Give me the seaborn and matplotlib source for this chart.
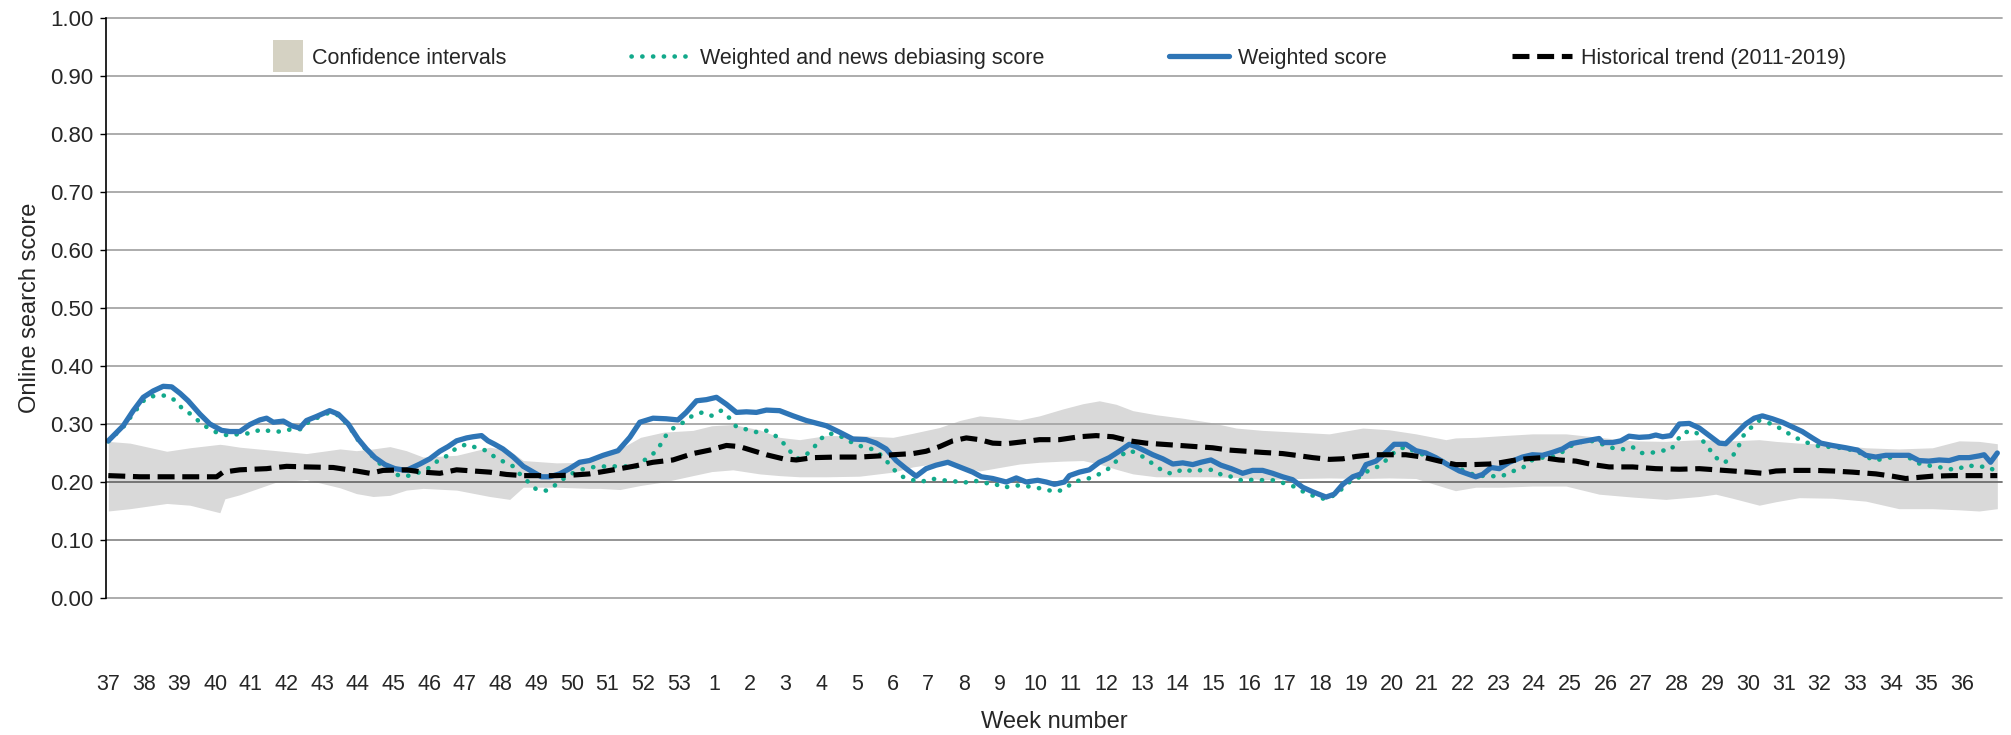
import matplotlib
matplotlib.use("Agg")
import matplotlib.pyplot as plt
import seaborn as sns
import pandas as pd
from matplotlib.patches import Patch, Rectangle
from matplotlib.lines import Line2D
from matplotlib.legend_handler import HandlerPatch

# ---- data (x = position in weeks from the first labelled week) ----
week_labels = list(range(37, 54)) + list(range(1, 37))

weighted_x = [0.00, 0.42, 0.70, 0.98, 1.26, 1.54, 1.78, 2.01, 2.24, 2.57,
              2.85, 3.18, 3.41, 3.69, 3.97, 4.25, 4.44, 4.63, 4.91, 5.14,
              5.37, 5.56, 5.84, 6.21, 6.45, 6.73, 7.01, 7.24, 7.48, 7.76,
              8.04, 8.36, 8.74, 9.02, 9.30, 9.53, 9.77, 10.05, 10.23, 10.47,
              10.65, 10.84, 11.07, 11.36, 11.64, 11.92, 12.15, 12.38, 12.66, 12.94,
              13.22, 13.50,
              13.88, 14.30, 14.63, 14.91, 15.28, 15.65, 15.98, 16.21, 16.50, 16.78,
              17.06, 17.34, 17.62, 17.90, 18.18, 18.46, 18.83, 19.21, 19.58, 20.14,
              20.51, 20.89, 21.26, 21.54, 21.82, 22.10, 22.38, 22.66, 22.94, 23.22,
              23.55, 23.88, 24.25, 24.49, 24.81, 25.19, 25.47, 25.75,
              26.07, 26.31, 26.54, 26.82, 26.96, 27.24, 27.52, 27.80, 28.08, 28.36,
              28.64, 28.83, 29.07, 29.30, 29.58, 29.86, 30.14, 30.42, 30.65, 30.93,
              31.21, 31.50, 31.82, 32.10, 32.38, 32.66, 32.94, 33.22, 33.50, 33.79,
              34.16, 34.39, 34.63, 34.91, 35.14, 35.28, 35.56, 35.84, 36.07, 36.40,
              36.68, 36.96, 37.24, 37.57, 37.90, 38.36, 38.55, 38.79,
              39.02, 39.30, 39.67, 39.95, 40.23, 40.51, 40.79, 41.03, 41.36, 41.64,
              41.82, 41.92, 42.20, 42.43, 42.66, 42.94, 43.22, 43.41, 43.60, 43.83,
              44.07, 44.35, 44.63, 44.91, 45.19, 45.37, 45.65, 45.93, 46.17, 46.40,
              46.68, 46.96, 47.24, 47.52, 47.80, 48.04, 48.36, 48.74, 49.07, 49.30,
              49.58, 49.86, 50.23, 50.51, 50.79, 51.07, 51.36, 51.64, 51.92, 52.20,
              52.48, 52.62, 52.80, 52.99]
weighted_score = [0.271, 0.297, 0.323, 0.346, 0.357, 0.365, 0.364, 0.353, 0.340, 0.317,
                  0.300, 0.289, 0.287, 0.287, 0.299, 0.307, 0.310, 0.303, 0.305, 0.297,
                  0.293, 0.306, 0.313, 0.323, 0.317, 0.300, 0.274, 0.257, 0.242, 0.230,
                  0.223, 0.220, 0.231, 0.240, 0.253, 0.261, 0.271, 0.276, 0.278, 0.280,
                  0.271, 0.265, 0.257, 0.243, 0.227, 0.217, 0.209, 0.209, 0.214, 0.223,
                  0.234, 0.237,
                  0.246, 0.254, 0.277, 0.303, 0.310, 0.309, 0.307, 0.320, 0.340, 0.342,
                  0.346, 0.334, 0.320, 0.321, 0.320, 0.324, 0.323, 0.314, 0.306, 0.297,
                  0.286, 0.274, 0.273, 0.267, 0.257, 0.237, 0.223, 0.210, 0.223, 0.229,
                  0.234, 0.226, 0.217, 0.209, 0.206, 0.200, 0.207, 0.200,
                  0.203, 0.200, 0.196, 0.200, 0.211, 0.217, 0.221, 0.234, 0.242, 0.253,
                  0.265, 0.261, 0.254, 0.247, 0.240, 0.231, 0.233, 0.230, 0.234, 0.238,
                  0.229, 0.223, 0.215, 0.220, 0.220, 0.215, 0.209, 0.204, 0.191, 0.183,
                  0.174, 0.179, 0.196, 0.209, 0.214, 0.230, 0.236, 0.251, 0.265, 0.265,
                  0.254, 0.250, 0.242, 0.230, 0.219, 0.209, 0.213, 0.225,
                  0.223, 0.234, 0.243, 0.247, 0.246, 0.251, 0.257, 0.266, 0.270, 0.273,
                  0.275, 0.268, 0.268, 0.271, 0.279, 0.277, 0.278, 0.281, 0.278, 0.280,
                  0.300, 0.301, 0.293, 0.280, 0.267, 0.266, 0.283, 0.300, 0.310, 0.314,
                  0.309, 0.303, 0.295, 0.287, 0.276, 0.267, 0.263, 0.259, 0.255, 0.246,
                  0.243, 0.246, 0.246, 0.246, 0.237, 0.236, 0.238, 0.237, 0.242, 0.242,
                  0.245, 0.247, 0.234, 0.250]

debiased_x = [0.00, 0.42, 0.70, 1.03, 1.31, 1.62, 1.90, 2.08, 2.34, 2.57,
              2.80, 3.08, 3.39, 3.69, 3.99, 4.30, 4.58, 4.83, 5.14, 5.42,
              5.56, 5.84, 6.21, 6.45, 6.73, 7.01, 7.24, 7.48, 7.66, 7.90,
              8.18, 8.46, 8.74, 9.02, 9.25, 9.53, 9.77, 10.05, 10.33, 10.61,
              10.84, 11.12, 11.36, 11.54, 11.78, 12.01, 12.31, 12.57, 12.80, 13.08,
              13.36,
              13.64, 13.97, 14.25, 14.53, 14.81, 15.09, 15.33, 15.51, 15.65, 15.89,
              16.14, 16.38, 16.66, 16.94, 17.19, 17.43, 17.62, 17.88, 18.16, 18.41,
              18.69, 18.91, 19.11, 19.32, 19.56, 19.79, 19.95, 20.21, 20.51, 20.77,
              21.03, 21.31, 21.54, 21.78, 22.01, 22.24, 22.52, 22.80, 23.08, 23.39,
              23.69, 23.97, 24.27, 24.55, 24.83, 25.11, 25.39, 25.67,
              25.93, 26.26, 26.54, 26.82, 27.06, 27.34, 27.62, 27.90, 28.16, 28.36,
              28.60, 28.83, 29.11, 29.35, 29.63, 29.88, 30.16, 30.42, 30.70, 31.00,
              31.26, 31.54, 31.82, 32.12, 32.43, 32.74, 33.02, 33.32, 33.58, 33.86,
              34.16, 34.44, 34.71, 34.89, 35.14, 35.37, 35.64, 35.89, 36.12, 36.40,
              36.68, 37.06, 37.43, 37.90, 38.36, 38.81,
              39.09, 39.37, 39.67, 39.91, 40.19, 40.47, 40.75, 40.98, 41.31, 41.59,
              41.87, 42.18, 42.46, 42.74, 42.99, 43.27, 43.55, 43.83, 44.02, 44.21,
              44.52, 44.70, 44.89, 45.07, 45.33, 45.56, 45.73, 45.84, 46.03, 46.31,
              46.73, 46.98, 47.24, 47.50, 47.80, 48.08, 48.36, 48.74, 49.02, 49.53,
              49.81, 50.14, 50.42, 50.68, 50.96, 51.26, 51.56, 51.84, 52.15, 52.45,
              52.71, 52.93]
debiased_score = [0.270, 0.295, 0.318, 0.343, 0.349, 0.349, 0.340, 0.326, 0.316, 0.303,
                  0.293, 0.284, 0.280, 0.283, 0.284, 0.291, 0.287, 0.287, 0.291, 0.291,
                  0.301, 0.310, 0.320, 0.315, 0.298, 0.272, 0.255, 0.240, 0.229, 0.220,
                  0.210, 0.211, 0.217, 0.225, 0.237, 0.246, 0.259, 0.265, 0.259, 0.254,
                  0.243, 0.234, 0.227, 0.214, 0.200, 0.187, 0.185, 0.196, 0.207, 0.217,
                  0.223,
                  0.226, 0.227, 0.227, 0.227, 0.227, 0.240, 0.251, 0.266, 0.281, 0.295,
                  0.303, 0.314, 0.320, 0.314, 0.323, 0.310, 0.295, 0.291, 0.286, 0.290,
                  0.281, 0.269, 0.254, 0.240, 0.246, 0.259, 0.273, 0.284, 0.280, 0.271,
                  0.263, 0.259, 0.254, 0.240, 0.223, 0.210, 0.204, 0.200, 0.206, 0.203,
                  0.202, 0.198, 0.203, 0.198, 0.198, 0.190, 0.194, 0.194,
                  0.191, 0.188, 0.183, 0.187, 0.200, 0.204, 0.208, 0.217, 0.227, 0.243,
                  0.254, 0.251, 0.240, 0.229, 0.217, 0.214, 0.223, 0.218, 0.221, 0.221,
                  0.211, 0.209, 0.202, 0.204, 0.203, 0.203, 0.197, 0.191, 0.181, 0.175,
                  0.170, 0.179, 0.194, 0.204, 0.209, 0.221, 0.227, 0.240, 0.254, 0.261,
                  0.251, 0.244, 0.236, 0.223, 0.211, 0.210,
                  0.210, 0.218, 0.224, 0.237, 0.242, 0.242, 0.250, 0.261, 0.269, 0.271,
                  0.266, 0.259, 0.256, 0.261, 0.250, 0.250, 0.254, 0.255, 0.273, 0.286,
                  0.287, 0.273, 0.259, 0.243, 0.233, 0.244, 0.261, 0.278, 0.291, 0.306,
                  0.299, 0.289, 0.280, 0.271, 0.265, 0.260, 0.261, 0.257, 0.254, 0.237,
                  0.240, 0.244, 0.247, 0.234, 0.229, 0.227, 0.223, 0.221, 0.229, 0.226,
                  0.227, 0.219]

historical_x = [0.00, 0.89, 1.82, 3.04, 3.22, 3.69, 4.44, 5.00, 5.56, 6.31,
                6.96, 7.34, 7.71, 8.36, 8.83, 9.30, 9.77, 10.23, 10.70, 11.17,
                11.64, 12.10, 12.57, 13.04, 13.50,
                14.17, 14.72, 15.28, 15.84, 16.40, 16.87, 17.34, 17.71, 18.08, 18.46,
                18.93, 19.30, 19.77, 20.42, 21.07, 21.64, 22.01, 22.57, 22.94, 23.32,
                23.69, 24.07, 24.44, 24.81, 25.19, 25.75, 26.12, 26.68,
                27.24, 27.71, 28.18, 28.64, 29.11, 29.58, 30.05, 30.51, 30.98, 31.45,
                31.92, 32.38, 32.94, 33.32, 33.79, 34.25, 34.63, 35.00, 35.47, 35.93,
                36.40, 36.87, 37.34, 37.80, 38.27, 38.74,
                39.02, 39.39, 39.77, 40.23, 40.70, 41.17, 41.64, 42.10, 42.76, 43.41,
                44.07, 44.63, 45.09, 45.56, 46.03, 46.40, 46.78, 47.24, 47.90, 48.36,
                48.93, 49.58, 50.05, 50.42, 50.79, 51.17, 51.73, 52.29, 52.99]
historical_trend = [0.211, 0.209, 0.209, 0.209, 0.217, 0.221, 0.223, 0.227, 0.226, 0.225,
                    0.219, 0.215, 0.220, 0.221, 0.217, 0.215, 0.221, 0.219, 0.217, 0.213,
                    0.211, 0.211, 0.211, 0.212, 0.214,
                    0.221, 0.227, 0.234, 0.238, 0.249, 0.255, 0.263, 0.261, 0.254, 0.247,
                    0.240, 0.238, 0.242, 0.243, 0.243, 0.245, 0.247, 0.249, 0.253, 0.261,
                    0.271, 0.276, 0.273, 0.267, 0.266, 0.270, 0.273, 0.273,
                    0.278, 0.280, 0.278, 0.271, 0.267, 0.265, 0.263, 0.261, 0.259, 0.255,
                    0.253, 0.251, 0.249, 0.246, 0.242, 0.239, 0.240, 0.244, 0.247, 0.247,
                    0.247, 0.243, 0.236, 0.230, 0.230, 0.231,
                    0.233, 0.237, 0.240, 0.242, 0.238, 0.236, 0.230, 0.226, 0.226, 0.223,
                    0.222, 0.223, 0.221, 0.219, 0.217, 0.215, 0.219, 0.220, 0.220, 0.219,
                    0.217, 0.214, 0.210, 0.206, 0.208, 0.210, 0.211, 0.211, 0.211]

ci_x = [0.00, 0.61, 1.64, 2.29, 3.13, 3.27, 3.69, 4.72, 5.56, 6.50,
        6.96, 7.43, 7.90, 8.36, 8.83, 9.77, 10.70, 11.26, 11.64, 12.57,
        13.50, 13.79, 14.35, 14.93, 15.58, 16.40, 16.93, 17.52, 18.27, 18.83,
        19.39, 20.14, 21.07, 22.01, 22.57, 23.32, 23.88, 24.44, 25.00, 25.56,
        26.12, 26.78, 27.34, 27.80, 28.27, 28.74, 29.39, 30.14, 30.89, 31.64,
        32.38, 33.32, 34.25, 35.19, 35.93, 36.68, 37.52, 37.79, 38.36, 39.11,
        39.95, 40.89, 41.82, 42.76, 43.69, 44.63, 45.09, 45.56, 46.31, 46.78,
        47.43, 48.36, 49.30, 50.23, 51.17, 51.92, 52.48, 52.99]
ci_upper = [0.270, 0.267, 0.253, 0.259, 0.265, 0.264, 0.260, 0.254, 0.249, 0.257,
            0.254, 0.257, 0.261, 0.254, 0.243, 0.246, 0.260, 0.254, 0.237, 0.233,
            0.234, 0.243, 0.257, 0.277, 0.286, 0.289, 0.297, 0.299, 0.290, 0.277,
            0.273, 0.280, 0.280, 0.277, 0.284, 0.294, 0.306, 0.314, 0.311, 0.307,
            0.314, 0.326, 0.335, 0.340, 0.334, 0.323, 0.316, 0.310, 0.303, 0.293,
            0.289, 0.286, 0.283, 0.293, 0.290, 0.283, 0.273, 0.276, 0.277, 0.280,
            0.283, 0.283, 0.277, 0.271, 0.270, 0.273, 0.272, 0.271, 0.273, 0.270,
            0.267, 0.265, 0.259, 0.257, 0.259, 0.271, 0.270, 0.266]
ci_lower = [0.150, 0.154, 0.163, 0.160, 0.147, 0.171, 0.178, 0.200, 0.204, 0.190,
            0.180, 0.175, 0.177, 0.186, 0.189, 0.186, 0.175, 0.170, 0.191, 0.191,
            0.189, 0.189, 0.187, 0.194, 0.200, 0.211, 0.218, 0.221, 0.214, 0.211,
            0.209, 0.209, 0.210, 0.217, 0.226, 0.233, 0.227, 0.219, 0.225, 0.231,
            0.234, 0.236, 0.237, 0.231, 0.222, 0.214, 0.209, 0.209, 0.209, 0.208,
            0.204, 0.206, 0.207, 0.206, 0.207, 0.206, 0.190, 0.185, 0.191, 0.191,
            0.193, 0.193, 0.179, 0.174, 0.170, 0.175, 0.179, 0.172, 0.160, 0.166,
            0.173, 0.172, 0.167, 0.154, 0.154, 0.152, 0.150, 0.154]

# ---- styling ----
sns.set_theme(style="white")
plt.rcParams["font.family"] = ["Liberation Sans", "DejaVu Sans"]
plt.rcParams["text.color"] = "#262626"

BLUE = "#2e75b6"
GREEN = "#12a98b"
BAND = "#d9d9d9"
BAND_KEY = "#d5d2c3"
GRID = "#a6a6a6"

DOTTED = (0, (0.05, 2.3))
DASHED = (0, (3.3, 1.5))

fig = plt.figure(figsize=(20.11, 7.35), dpi=100)
ax = fig.add_axes([0.0527, 0.1864, 0.9428, 0.7891])

ax.fill_between(ci_x, ci_lower, ci_upper, color=BAND, lw=0, zorder=0.4)

sns.lineplot(x=debiased_x, y=debiased_score, ax=ax, color=GREEN, lw=3.3,
             linestyle=DOTTED, dash_capstyle="round",
             estimator=None, sort=False, zorder=2)
sns.lineplot(x=weighted_x, y=weighted_score, ax=ax, color=BLUE, lw=3.8,
             estimator=None, sort=False, zorder=2.1)
sns.lineplot(x=historical_x, y=historical_trend, ax=ax, color="black", lw=3.7,
             linestyle=DASHED, estimator=None, sort=False, zorder=2.2)

ax.set_xlim(-0.065, 53.12)
ax.set_ylim(0, 1.0)
ax.set_xticks(range(len(week_labels)))
ax.set_xticklabels([str(w) for w in week_labels])
y_ticks = [i / 10 for i in range(11)]
ax.set_yticks(y_ticks)
ax.set_yticklabels([f"{v:.2f}" for v in y_ticks])

# horizontal rules at every 0.10; the two lowest ones render a little darker
ax.yaxis.grid(False)
ax.xaxis.grid(False)
for v in y_ticks:
    shade = {0.1: "#8c8c8c", 0.2: "#6e6e6e"}.get(round(v, 1), GRID)
    ax.axhline(v, color=shade, lw=1.3, zorder=0.5, clip_on=False)

for side in ("top", "right", "bottom"):
    ax.spines[side].set_visible(False)
ax.spines["left"].set_color("black")
ax.spines["left"].set_linewidth(1.2)
ax.spines["left"].set_zorder(3)

ax.tick_params(axis="x", length=0, pad=55, labelsize=15.5, colors="#262626")
ax.tick_params(axis="y", left=True, length=4, width=1, color="black", pad=5,
               labelsize=16, labelcolor="#262626")

ax.set_xlabel("Week number", fontsize=17, labelpad=11)
ax.set_ylabel("Online search score", fontsize=17, labelpad=6.5)


def square_key(legend, orig_handle, xdescent, ydescent, width, height, fontsize):
    side_w, side_h = 21.6, 23.0
    return Rectangle((width - side_w - xdescent, -ydescent + height / 2 - side_h / 2),
                     side_w, side_h)


handles = [
    Patch(facecolor=BAND_KEY, edgecolor="none", label="Confidence intervals"),
    Line2D([], [], color=GREEN, lw=3.3, linestyle=DOTTED,
           dash_capstyle="round", label="Weighted and news debiasing score"),
    Line2D([], [], color=BLUE, lw=3.8, label="Weighted score"),
    Line2D([], [], color="black", lw=3.7, linestyle=DASHED,
           label="Historical trend (2011-2019)"),
]
ax.legend(handles=handles, ncol=4, loc="center left", bbox_to_anchor=(0.0723, 0.931),
          frameon=False, fontsize=15.5, handlelength=2.78, handletextpad=0.42,
          columnspacing=5.8, borderpad=0, borderaxespad=0,
          handler_map={Patch: HandlerPatch(patch_func=square_key)})

fig.savefig("out.png", dpi=100)
